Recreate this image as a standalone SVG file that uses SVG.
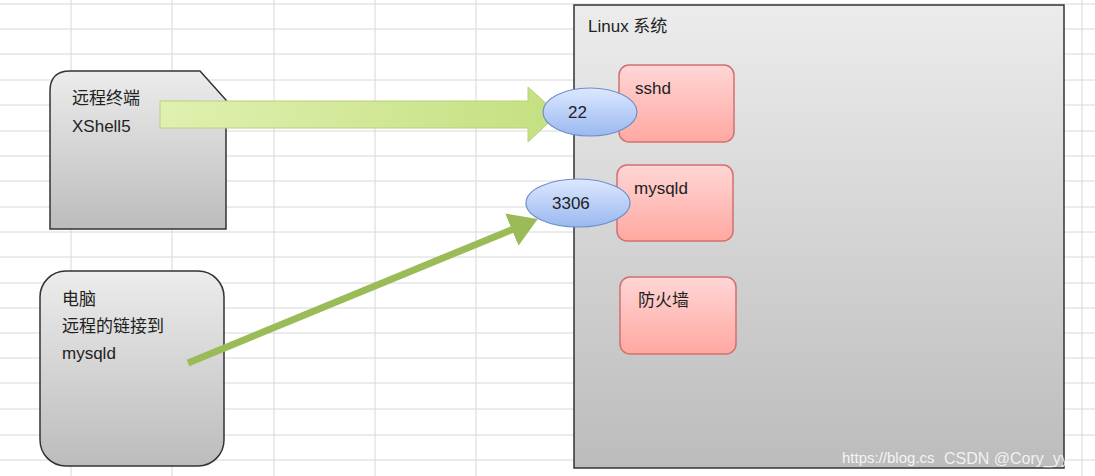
<svg xmlns="http://www.w3.org/2000/svg" width="1095" height="476" viewBox="0 0 1095 476">
<defs>
<linearGradient id="gray" x1="0" y1="0" x2="0" y2="1"><stop offset="0" stop-color="#ececec"/><stop offset="1" stop-color="#bcbcbc"/></linearGradient>
<linearGradient id="pink" x1="0" y1="0" x2="0" y2="1"><stop offset="0" stop-color="#ffd6d6"/><stop offset="1" stop-color="#ffa8a0"/></linearGradient>
<linearGradient id="blue" x1="0" y1="0" x2="0" y2="1"><stop offset="0" stop-color="#dce8ff"/><stop offset="1" stop-color="#9ab8f0"/></linearGradient>
<linearGradient id="green" x1="0" y1="0" x2="1" y2="0"><stop offset="0" stop-color="#e0f0b0"/><stop offset="1" stop-color="#c4e080"/></linearGradient>
<marker id="ah" markerWidth="5" markerHeight="5" refX="2.5" refY="2.5" orient="auto"><path d="M0,0 L4,2.5 L0,5 Z" fill="#9bbb59"/></marker>
</defs>
<style>
text{font-family:"Liberation Sans","Noto Sans CJK SC",sans-serif;font-size:17px;fill:#222}
.pk{fill:url(#pink);stroke:#d07070;stroke-width:1.5}
.el{fill:url(#blue);stroke:#6f8fc8;stroke-width:1.2}
.grid line{stroke:#d8d8d8;stroke-width:1}
</style>
<rect width="1095" height="476" fill="#fff"/>
<g class="grid">
<line x1="71" y1="0" x2="71" y2="476"/><line x1="172" y1="0" x2="172" y2="476"/><line x1="274" y1="0" x2="274" y2="476"/><line x1="375" y1="0" x2="375" y2="476"/><line x1="476" y1="0" x2="476" y2="476"/><line x1="1082" y1="0" x2="1082" y2="476"/>
<line x1="0" y1="4" x2="1095" y2="4"/><line x1="0" y1="29" x2="1095" y2="29"/><line x1="0" y1="54" x2="1095" y2="54"/><line x1="0" y1="80" x2="1095" y2="80"/><line x1="0" y1="105" x2="1095" y2="105"/><line x1="0" y1="131" x2="1095" y2="131"/><line x1="0" y1="156" x2="1095" y2="156"/><line x1="0" y1="181" x2="1095" y2="181"/><line x1="0" y1="207" x2="1095" y2="207"/><line x1="0" y1="232" x2="1095" y2="232"/><line x1="0" y1="257" x2="1095" y2="257"/><line x1="0" y1="283" x2="1095" y2="283"/><line x1="0" y1="308" x2="1095" y2="308"/><line x1="0" y1="333" x2="1095" y2="333"/><line x1="0" y1="358" x2="1095" y2="358"/><line x1="0" y1="383" x2="1095" y2="383"/><line x1="0" y1="409" x2="1095" y2="409"/><line x1="0" y1="435" x2="1095" y2="435"/><line x1="0" y1="460" x2="1095" y2="460"/>
</g>
<g id="linux">
<rect x="574" y="5" width="490" height="463" fill="url(#gray)" stroke="#333" stroke-width="1.5"/>
<text x="588" y="32">Linux 系统</text>
</g>
<g id="xshell">
<path d="M70,71 L200,71 L226,100 L226,229 L50,229 L50,91 Q50,71 70,71 Z" fill="url(#gray)" stroke="#333" stroke-width="1.5"/>
<text x="72" y="104">远程终端</text><text x="72" y="132">XShell5</text>
</g>
<g id="pc">
<rect x="40" y="271" width="184" height="195" rx="26" fill="url(#gray)" stroke="#333" stroke-width="1.5"/>
<text x="62" y="305">电脑</text><text x="62" y="332">远程的链接到</text><text x="62" y="359">mysqld</text>
</g>
<g id="sshd"><rect class="pk" x="619" y="65" width="115" height="77" rx="10"/><text x="635" y="94">sshd</text></g>
<g id="mysqld"><rect class="pk" x="617" y="165" width="116" height="76" rx="10"/><text x="634" y="194">mysqld</text></g>
<g id="firewall"><rect class="pk" x="620" y="277" width="116" height="77" rx="10"/><text x="638" y="306">防火墙</text></g>
<g id="connectors">
<path d="M160,101 L528,101 L528,87 L558,114 L528,142 L528,128 L160,128 Z" fill="url(#green)" stroke="#b8d080" stroke-width="1"/>
<line x1="188" y1="363" x2="528" y2="223" stroke="#9bbb59" stroke-width="7" marker-end="url(#ah)"/>
</g>
<g id="p22"><ellipse class="el" cx="590" cy="112" rx="47" ry="24"/><text x="568" y="118">22</text></g>
<g id="p3306"><ellipse class="el" cx="578" cy="203" rx="52" ry="24"/><text x="552" y="209">3306</text></g>
<text x="842" y="463" style="font-size:15px;fill:#ffffff;opacity:0.85">https://blog.cs</text>
<text x="944" y="464" style="font-size:16px;fill:#ffffff;opacity:0.8">CSDN @Cory_yy</text>
</svg>
